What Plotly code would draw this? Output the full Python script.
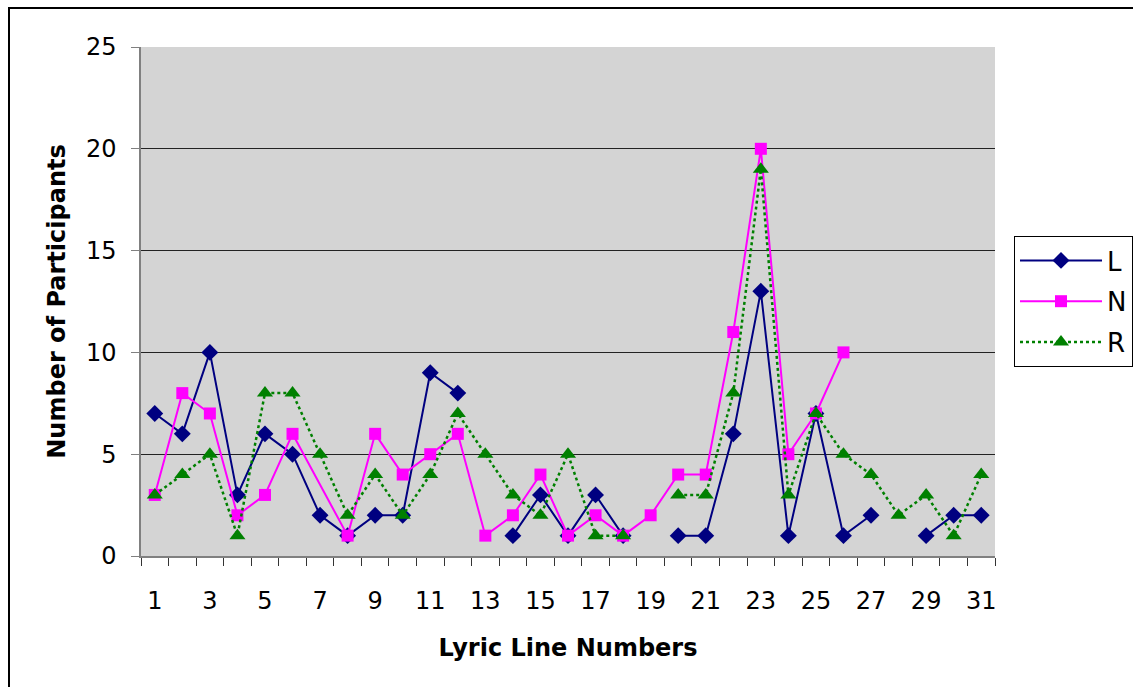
import plotly.graph_objects as go

lines = list(range(1, 32))
L_vals = [7, 6, 10, 3, 6, 5, 2, 1, 2, 2, 9, 8, None, 1, 3, 1, 3, 1, None, 1, 1, 6, 13, 1, 7, 1, 2, None, 1, 2, 2]
N_vals = [3, 8, 7, 2, 3, 6, None, 1, 6, 4, 5, 6, 1, 2, 4, 1, 2, 1, 2, 4, 4, 11, 20, 5, 7, 10, None, None, None, None, None]
R_vals = [3, 4, 5, 1, 8, 8, 5, 2, 4, 2, 4, 7, 5, 3, 2, 5, 1, 1, None, 3, 3, 8, 19, 3, 7, 5, 4, 2, 3, 1, 4]
x_ticks = list(range(1, 32, 2))
y_ticks = [0, 5, 10, 15, 20, 25]

FONT = "DejaVu Sans"

fig = go.Figure()
fig.add_trace(go.Scatter(x=lines, y=L_vals, name="L", mode="lines+markers", legendgroup="L",
                         line=dict(color="#000080", width=2),
                         marker=dict(symbol="diamond", size=13, color="#000080"),
                         connectgaps=False))
# N: missing point at 7 is bridged in the original
N_x = [x for x, v in zip(lines, N_vals) if v is not None]
N_y = [v for v in N_vals if v is not None]
fig.add_trace(go.Scatter(x=N_x, y=N_y, name="N", mode="lines+markers", legendgroup="N",
                         line=dict(color="#FF00FF", width=2),
                         marker=dict(symbol="square", size=12, color="#FF00FF")))
fig.add_trace(go.Scatter(x=lines, y=R_vals, name="R", mode="lines+markers", legendgroup="R",
                         line=dict(color="#008000", width=2.5, dash="dot"),
                         marker=dict(symbol="triangle-up", size=14, color="#008000"),
                         connectgaps=False))

W, H = 1133, 687
l, r, t, b = 141, 138, 47, 131
pw, ph = W - l - r, H - t - b

def px_x(px):
    return (px - l) / pw

def px_y(py):
    return (H - b - py) / ph

fig.update_layout(
    width=W, height=H,
    margin=dict(l=l, r=r, t=t, b=b, autoexpand=False),
    paper_bgcolor="white",
    plot_bgcolor="#D4D4D4",
    font=dict(family=FONT, size=24, color="black"),
    showlegend=True,
    legend=dict(x=px_x(1014), y=px_y(236), xanchor="left", yanchor="top",
                bordercolor="black", borderwidth=1, bgcolor="white",
                font=dict(family=FONT, size=26), itemwidth=82,
                tracegroupgap=4),
    xaxis=dict(range=[0.5, 31.5], tickmode="array", tickvals=x_ticks,
               ticktext=[str(v) for v in x_ticks], ticks="", showgrid=False,
               showline=True, linecolor="#808080", linewidth=1.5, zeroline=False,
               tickfont=dict(family=FONT, size=24), ticklabelstandoff=22,
               minor=dict(tickmode="array", tickvals=[i + 0.5 for i in range(0, 32)],
                          ticks="outside", ticklen=8, tickcolor="#333333", tickwidth=1,
                          showgrid=False),
               title=dict(text="<b>Lyric Line Numbers</b>", font=dict(family=FONT, size=24),
                          standoff=26)),
    yaxis=dict(range=[0, 25], tickmode="array", tickvals=y_ticks,
               ticks="outside", ticklen=8, tickcolor="#808080",
               showgrid=True, gridcolor="#222222", gridwidth=1,
               showline=True, linecolor="#808080", linewidth=1.5, zeroline=False,
               tickfont=dict(family=FONT, size=24), ticklabelstandoff=10,
               title=dict(text="<b>Number of Participants</b>", font=dict(family=FONT, size=24),
                          standoff=14)),
)

# outer chart border: left and top edges visible, right and bottom run past the window
fig.add_shape(type="rect", xref="paper", yref="paper",
              x0=px_x(9), x1=px_x(1150), y0=px_y(700), y1=px_y(8),
              line=dict(color="black", width=2), fillcolor="rgba(0,0,0,0)", layer="below")

fig.write_html("out.html", config={"displayModeBar": False},
               post_script="document.body.style.margin='0px';document.body.style.overflow='hidden';")
